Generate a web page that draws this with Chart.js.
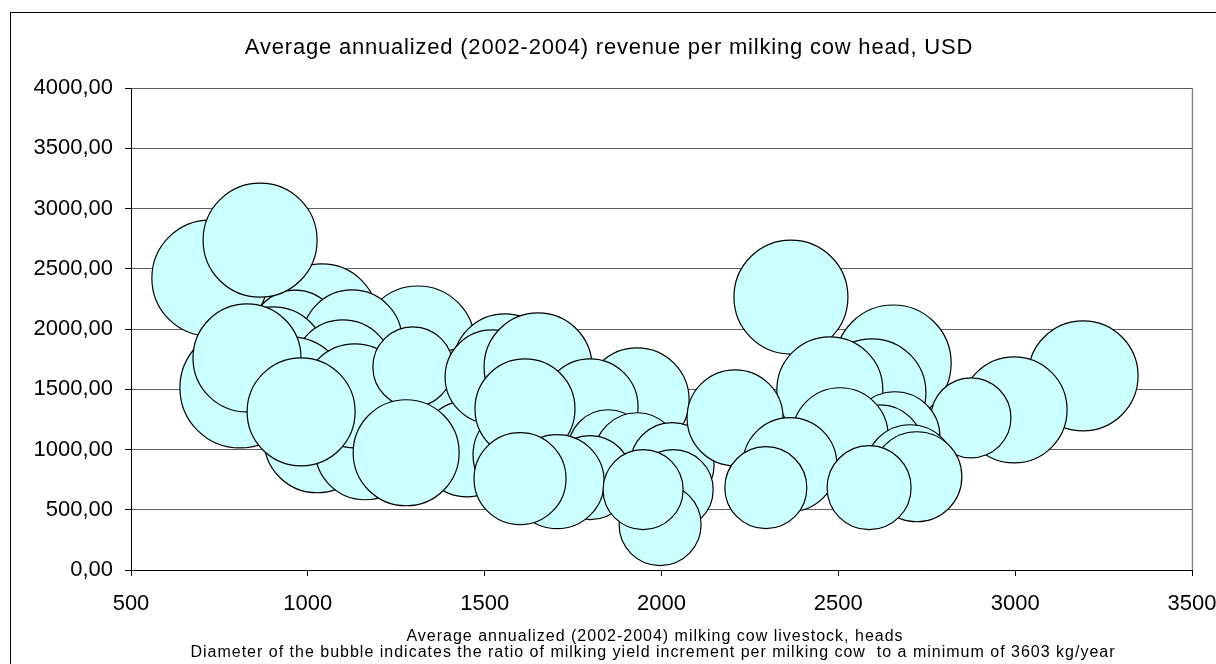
<!DOCTYPE html>
<html>
<head>
<meta charset="utf-8">
<title>Milking cow revenue vs herd size</title>
<script src="https://cdn.jsdelivr.net/npm/chart.js@4.4.1/dist/chart.umd.min.js"></script>
<style>
  html, body { margin: 0; padding: 0; background: #ffffff; }
  #chart { display: block; }
</style>
</head>
<body>
<canvas id="chart" width="1216" height="664"></canvas>
<script>
// Average annualized (2002-2004) milking cow livestock, heads
const herdSize = [
  1311, 1040, 964, 1125, 902, 1099, 723, 865, 950, 814, 808, 1026, 1162, 1133,
  1436, 1402, 1297, 828, 981,
  1450, 1600, 1278, 1557, 1521, 1651, 1931, 1798, 1614, 1849, 1931, 2030, 2033,
  1798, 1705, 1600, 1996, 1948,
  3192, 2997, 2366, 2655, 2595, 2476, 2875, 2660, 2618, 2502, 2505, 2208, 2363,
  2703, 2722, 2295, 2587
];

// Average annualized (2002-2004) revenue per milking cow head, USD
const revenuePerHead = [
  1884, 2075, 1950, 1909, 1743, 1660, 2422, 2737, 1453, 1561, 1511, 1081, 998, 1445,
  1453, 1246, 1685, 1760, 1313,
  1006, 957, 973, 1694, 1602, 1685, 1412, 1354, 1337, 998, 948, 874, 667,
  766, 733, 758, 377, 667,
  1611, 1329, 2265, 1718, 1470, 1495, 1263, 1106, 1014, 1097, 1114, 1263, 874,
  832, 774, 683, 683
];

// Ratio of milking yield increment per cow to the 3603 kg/year minimum
const yieldRatio = [
  1.425, 1.400, 1.125, 1.250, 1.325, 1.250, 1.450, 1.425, 1.450, 1.275, 1.500, 1.325, 1.250, 1.300,
  1.150, 1.125, 1.000, 1.350, 1.350,
  1.200, 1.175, 1.325, 1.300, 1.175, 1.350, 1.300, 1.200, 1.250, 1.000, 1.075, 1.050, 1.000,
  1.050, 1.175, 1.150, 1.025, 1.000,
  1.375, 1.325, 1.425, 1.450, 1.350, 1.325, 1.000, 1.125, 1.075, 1.175, 1.200, 1.200, 1.175,
  1.125, 1.125, 1.025, 1.050
];

const xTicks = [500, 1000, 1500, 2000, 2500, 3000, 3500];
const yTicks = [0, 500, 1000, 1500, 2000, 2500, 3000, 3500, 4000];

const chartTitle = 'Average annualized (2002-2004) revenue per milking cow head, USD';
const xTitleLines = [
  'Average annualized (2002-2004) milking cow livestock, heads',
  'Diameter of the bubble indicates the ratio of milking yield increment per milking cow  to a minimum of 3603 kg/year'
];

const BUBBLE_PX_PER_RATIO = 40;
const FONT = "'Liberation Sans', Arial, sans-serif";

const points = herdSize.map((x, i) => ({
  x: x,
  y: revenuePerHead[i],
  r: yieldRatio[i] * BUBBLE_PX_PER_RATIO
}));

// Frame, plot border and the two text blocks drawn with spaced lettering
const framePlugin = {
  id: 'frame',
  beforeDraw(chart) {
    const ctx = chart.ctx;
    ctx.save();
    ctx.fillStyle = '#ffffff';
    ctx.fillRect(0, 0, chart.width, chart.height);
    ctx.strokeStyle = '#000000';
    ctx.lineWidth = 1;
    ctx.strokeRect(10.5, 12.5, chart.width + 10, chart.height + 10);
    ctx.restore();
  },
  beforeDatasetsDraw(chart) {
    const ctx = chart.ctx;
    const a = chart.chartArea;
    ctx.save();
    ctx.strokeStyle = '#8a8a8a';
    ctx.lineWidth = 1.5;
    ctx.beginPath();
    ctx.moveTo(Math.round(a.right) + 0.5, a.top);
    ctx.lineTo(Math.round(a.right) + 0.5, a.bottom);
    ctx.stroke();
    ctx.restore();
  },
  afterDraw(chart) {
    const ctx = chart.ctx;
    ctx.save();
    ctx.fillStyle = '#000000';
    ctx.textAlign = 'center';
    ctx.textBaseline = 'alphabetic';
    ctx.font = '22px ' + FONT;
    ctx.letterSpacing = '0.8px';
    ctx.fillText(chartTitle, 609, 54);
    ctx.font = '16px ' + FONT;
    ctx.letterSpacing = '1px';
    ctx.fillText(xTitleLines[0], 655, 641);
    ctx.fillText(xTitleLines[1], 653, 657);
    ctx.restore();
  }
};

new Chart(document.getElementById('chart'), {
  type: 'bubble',
  data: {
    datasets: [{
      data: points,
      backgroundColor: '#CCFFFF',
      borderColor: '#000000',
      borderWidth: 1.2,
      hoverBackgroundColor: '#CCFFFF',
      hoverBorderColor: '#000000'
    }]
  },
  options: {
    responsive: false,
    animation: false,
    devicePixelRatio: 1,
    events: [],
    layout: { autoPadding: false, padding: { top: 88, right: 24, bottom: 0, left: 0 } },
    plugins: {
      legend: { display: false },
      title: { display: false },
      tooltip: { enabled: false }
    },
    scales: {
      x: {
        type: 'linear',
        position: 'bottom',
        min: xTicks[0],
        max: xTicks[xTicks.length - 1],
        afterBuildTicks(scale) { scale.ticks = xTicks.map(v => ({ value: v })); },
        afterFit(scale) {
          scale.height = 94;
          scale.paddingLeft = 0;
          scale.paddingRight = 0;
        },
        ticks: {
          color: '#000000',
          padding: 15,
          maxRotation: 0,
          font: { family: FONT, size: 22 },
          callback: v => String(v)
        },
        grid: {
          drawOnChartArea: false,
          drawTicks: true,
          tickLength: 6,
          tickColor: '#000000'
        },
        border: { color: '#000000', width: 1 }
      },
      y: {
        type: 'linear',
        min: yTicks[0],
        max: yTicks[yTicks.length - 1],
        afterBuildTicks(scale) { scale.ticks = yTicks.map(v => ({ value: v })); },
        afterFit(scale) {
          scale.width = 131;
          scale.paddingTop = 0;
          scale.paddingBottom = 0;
        },
        ticks: {
          color: '#000000',
          padding: 12,
          font: { family: FONT, size: 22 },
          callback: v => v.toFixed(2).replace('.', ',')
        },
        grid: {
          color: '#5e5e5e',
          lineWidth: 1,
          drawTicks: true,
          tickLength: 6,
          tickColor: '#000000'
        },
        border: { color: '#000000', width: 1 }
      }
    }
  },
  plugins: [framePlugin]
});
</script>
</body>
</html>
